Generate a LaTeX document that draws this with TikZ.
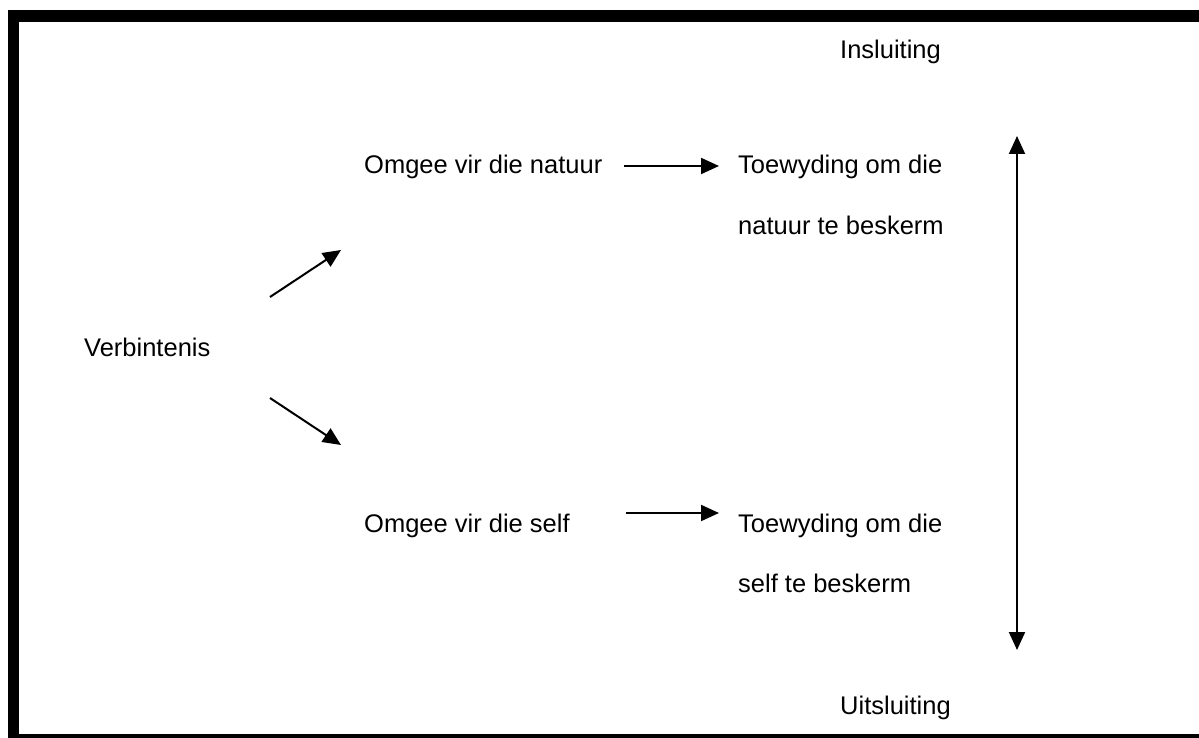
\documentclass[tikz,border=0pt]{standalone}
\usepackage{fontspec}
\setmainfont{Liberation Sans}
\usetikzlibrary{arrows.meta}
\begin{document}
\begin{tikzpicture}[x=1pt,y=-1pt,
  lbl/.style={anchor=base west,inner sep=0pt,font=\fontsize{25.5}{30}\selectfont},
  tip/.style={Triangle[length=18pt,width=16pt]},
  arr/.style={line width=2pt,-{Triangle[length=18pt,width=16pt]}},
  darr/.style={line width=2pt,{Triangle[length=18pt,width=16pt]}-{Triangle[length=18pt,width=16pt]}}]
\useasboundingbox (0,0) rectangle (1199,738);
% frame
\fill[black] (8,10) rectangle (1199,22);
\fill[black] (8,10) rectangle (19,738);
\fill[black] (8,734) rectangle (1199,738);
% texts
\node[lbl] (ins) at (840,59) {Insluiting};
\node[lbl] (on) at (364,174) {Omgee vir die natuur};
\node[lbl] (tn1) at (738,174) {Toewyding om die};
\node[lbl] (tn2) at (738,234) {natuur te beskerm};
\node[lbl] (ver) at (84,356) {Verbintenis};
\node[lbl] (os) at (364,532) {Omgee vir die self};
\node[lbl] (ts1) at (738,532) {Toewyding om die};
\node[lbl] (ts2) at (738,592) {self te beskerm};
\node[lbl] (uit) at (840,714) {Uitsluiting};
% arrow endpoints
\coordinate (a1s) at (270,297); \coordinate (a1e) at (341,250);
\coordinate (a2s) at (270,398); \coordinate (a2e) at (341,445);
\coordinate (h1s) at (624,166); \coordinate (h1e) at (719,166);
\coordinate (h2s) at (626,513); \coordinate (h2e) at (719,513);
\coordinate (vt) at (1017,136); \coordinate (vb) at (1017,650);
\draw[arr] (a1s) -- (a1e);
\draw[arr] (a2s) -- (a2e);
\draw[arr] (h1s) -- (h1e);
\draw[arr] (h2s) -- (h2e);
\draw[darr] (vt) -- (vb);
\end{tikzpicture}
\end{document}
